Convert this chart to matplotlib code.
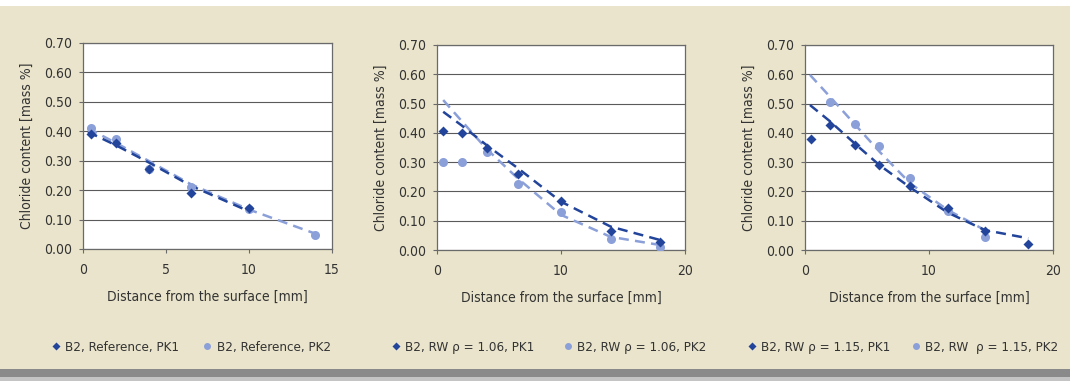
import matplotlib
matplotlib.use('Agg')
import matplotlib.pyplot as plt
from matplotlib.lines import Line2D
from matplotlib.patches import Rectangle

plt.rcParams['font.family'] = ['DejaVu Sans']
plt.rcParams['font.stretch'] = 'condensed'

# Panel 1: reference concrete
ref_x1 = [0.5, 2, 4, 6.5, 10]
ref_y1 = [0.39, 0.36, 0.272, 0.19, 0.139]
ref_x2 = [0.5, 2, 4, 6.5, 10, 14]
ref_y2 = [0.411, 0.373, 0.272, 0.21, 0.136, 0.049]
ref_trend_x1 = [0.3, 2, 4, 6.5, 10]
ref_trend_y1 = [0.398, 0.352, 0.293, 0.215, 0.128]
ref_trend_x2 = [0.3, 2, 4, 6.5, 10, 14]
ref_trend_y2 = [0.41, 0.36, 0.298, 0.22, 0.134, 0.052]

# Panel 2: RW rho = 1.06
rw106_x = [0.5, 2, 4, 6.5, 10, 14, 18]
rw106_y1 = [0.406, 0.40, 0.35, 0.26, 0.167, 0.065, 0.027]
rw106_y2 = [0.30, 0.30, 0.335, 0.225, 0.13, 0.036, 0.01]
rw106_trend_x = [0.5, 2, 4, 6.5, 10, 14, 18]
rw106_trend_y1 = [0.472, 0.425, 0.358, 0.28, 0.165, 0.08, 0.034]
rw106_trend_y2 = [0.512, 0.44, 0.345, 0.245, 0.12, 0.045, 0.017]

# Panel 3: RW rho = 1.15
rw115_x1 = [0.5, 2, 4, 6, 8.5, 11.5, 14.5, 18]
rw115_y1 = [0.378, 0.427, 0.359, 0.29, 0.219, 0.142, 0.065, 0.019]
rw115_x2 = [2, 4, 6, 8.5, 11.5, 14.5]
rw115_y2 = [0.506, 0.429, 0.355, 0.245, 0.134, 0.046]
rw115_trend_x1 = [0.4, 2, 4, 6, 8.5, 11.5, 14.5, 18]
rw115_trend_y1 = [0.495, 0.44, 0.364, 0.29, 0.213, 0.128, 0.068, 0.04]
rw115_trend_x2 = [0.4, 2, 4, 6, 8.5, 11.5, 14.5]
rw115_trend_y2 = [0.598, 0.524, 0.43, 0.336, 0.227, 0.137, 0.068]

legend_labels = [
    ('B2, Reference, PK1', 'B2, Reference, PK2'),
    ('B2, RW ρ = 1.06, PK1', 'B2, RW ρ = 1.06, PK2'),
    ('B2, RW ρ = 1.15, PK1', 'B2, RW  ρ = 1.15, PK2'),
]

dark = '#22449a'
light = '#8b9fd9'
text_col = '#333333'
bg = '#e9e4cb'

fig = plt.figure(figsize=(10.70, 3.81), dpi=100)
fig.patch.set_facecolor('white')
# page background and bottom shadow
fig.add_artist(Rectangle((0, 1 - 369 / 381), 1, (369 - 6) / 381, transform=fig.transFigure,
                         facecolor=bg, edgecolor='none', zorder=-5))
fig.add_artist(Rectangle((0, 1 - 377 / 381), 1, 8 / 381, transform=fig.transFigure,
                         facecolor='#8a8a8a', edgecolor='none', zorder=-5))
fig.add_artist(Rectangle((0, 0), 1, 4 / 381, transform=fig.transFigure,
                         facecolor='#c4c4c4', edgecolor='none', zorder=-5))

W, H = 1070, 381
boxes = [(83, 332, 43, 249), (437, 685, 45, 250), (805, 1053, 45, 250)]
xlims = [(0, 15, [0, 5, 10, 15]), (0, 20, [0, 10, 20]), (0, 20, [0, 10, 20])]

panels = [
    (ref_x1, ref_y1, ref_x2, ref_y2, ref_trend_x1, ref_trend_y1, ref_trend_x2, ref_trend_y2),
    (rw106_x, rw106_y1, rw106_x, rw106_y2, rw106_trend_x, rw106_trend_y1, rw106_trend_x, rw106_trend_y2),
    (rw115_x1, rw115_y1, rw115_x2, rw115_y2, rw115_trend_x1, rw115_trend_y1, rw115_trend_x2, rw115_trend_y2),
]
legend_x = [52 / W, 392 / W, 748 / W]
legend_gap = [1.8, 2.2, 1.6]

for i, (box, lim, data) in enumerate(zip(boxes, xlims, panels)):
    l, r, t, b = box
    ax = fig.add_axes([l / W, 1 - b / H, (r - l) / W, (b - t) / H])
    ax.set_facecolor('white')
    x1, y1, x2, y2, tx1, ty1, tx2, ty2 = data

    ax.plot(tx2, ty2, color=light, lw=1.8, dashes=(4, 2.5), zorder=3)
    ax.plot(tx1, ty1, color=dark, lw=1.8, dashes=(4, 2.5), zorder=3)
    ax.plot(x2, y2, 'o', color=light, ms=6.5, mec='none', zorder=4)
    ax.plot(x1, y1, 'D', color=dark, ms=5, mec='none', zorder=5)

    ax.set_xlim(lim[0], lim[1])
    ax.set_xticks(lim[2])
    ax.set_ylim(0, 0.70)
    ax.set_yticks([k / 10 for k in range(8)])
    ax.set_yticklabels(['%.2f' % (k / 10) for k in range(8)])
    ax.grid(axis='y', color='#5a5a5a', lw=0.8)
    ax.set_axisbelow(True)
    for s in ax.spines.values():
        s.set_color('#6a6a6a')
        s.set_linewidth(0.9)
    ax.tick_params(direction='out', length=3, width=0.8, color='#6a6a6a',
                   labelsize=10, labelcolor=text_col)
    ax.tick_params(axis='x', pad=7)
    ax.tick_params(axis='y', pad=5)
    ax.set_xlabel('Distance from the surface [mm]', fontsize=10, color=text_col, labelpad=9)
    ax.set_ylabel('Chloride content [mass %]', fontsize=10, color=text_col, labelpad=7)

    handles = [
        Line2D([], [], marker='D', ls='none', color=dark, ms=4, mec='none'),
        Line2D([], [], marker='o', ls='none', color=light, ms=5, mec='none'),
    ]
    fig.legend(handles, legend_labels[i], loc='center left',
               bbox_to_anchor=(legend_x[i], 1 - 347 / H), ncol=2, frameon=False,
               fontsize=9.6, labelcolor=text_col, handlelength=0.6, handletextpad=0.4,
               columnspacing=legend_gap[i], borderaxespad=0, borderpad=0)

fig.savefig('out.png', dpi=100, facecolor=fig.get_facecolor())
